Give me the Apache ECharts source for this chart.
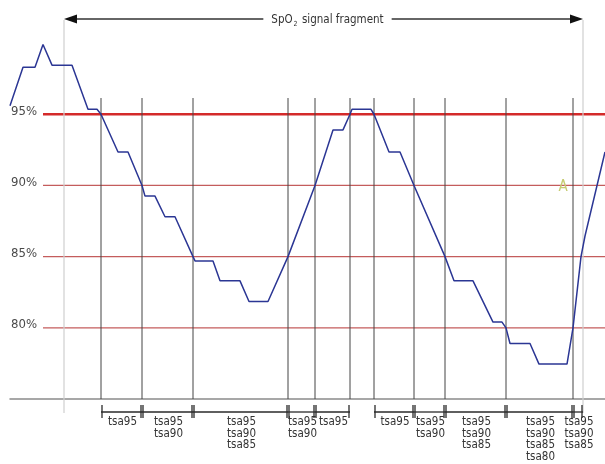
<!DOCTYPE html>
<html><head><meta charset="utf-8">
<script src="https://cdn.jsdelivr.net/npm/echarts@6.0.0/dist/echarts.min.js"></script>
<style>html,body{margin:0;padding:0;background:#fff}#c{width:605px;height:464px}</style>
</head><body><div id="c"></div>
<script>
// ---- data ----
const time = [0,13,25,33,42,62,78,87,91,108,118,132,135,145,155,165,183,185,203,210,230,239,258,278,305,323,333,340,342,361,364,379,390,404,435,444,463,483,492,496,500,520,529,557,563,571,575,595];
const spo2 = [95.6,98.3,98.3,99.9,98.45,98.45,95.35,95.35,95.0,92.35,92.35,90.0,89.25,89.25,87.8,87.8,85.0,84.7,84.7,83.3,83.3,81.85,81.85,85.0,90.0,93.9,93.9,95.0,95.35,95.35,95.0,92.35,92.35,90.0,85.0,83.3,83.3,80.4,80.4,80.0,78.9,78.9,77.45,77.45,80.0,85.0,86.45,92.35];
const thresholds = [95, 90, 85, 80];
const thresholdLabels = ['95%', '90%', '85%', '80%'];
const crossings = [91, 132, 183, 278, 305, 340, 364, 404, 435, 496, 563];
const fragmentStart = 54;
const fragmentEnd = 573;
const fragmentTitle = 'SpO';
const fragmentTitleSub = '2';
const fragmentTitleRest = ' signal fragment';
const segStart = [91, 132, 183, 278, 305, 364, 404, 435, 496, 563];
const segEnd   = [132, 183, 278, 305, 340, 404, 435, 496, 563, 573];
const segLabels = [
  'tsa95',
  'tsa95\ntsa90',
  'tsa95\ntsa90\ntsa85',
  'tsa95\ntsa90',
  'tsa95',
  'tsa95',
  'tsa95\ntsa90',
  'tsa95\ntsa90\ntsa85',
  'tsa95\ntsa90\ntsa85\ntsa80',
  'tsa95\ntsa90\ntsa85'
];
const markerText = 'A';
const markerPos = [553, 89.9];

// ---- layout / style constants ----
const Y_MIN = 75, Y_MAX = 102, X_MIN = 0, X_MAX = 595;
const TH_LINE_START = 33;
const CROSS_TOP = 96.14;
const FRAG_TOP = 101.62;
const ARROW_Y = 101.69;
const FONT = '"DejaVu Sans Condensed", "Liberation Sans Narrow", "DejaVu Sans", sans-serif';

const lineData = time.map((t, i) => [t, spo2[i]]);

const chart = echarts.init(document.getElementById('c'), null, {renderer: 'canvas'});

const option = {
  animation: false,
  backgroundColor: '#fff',
  grid: {left: 10, right: 0, top: 14.6, bottom: 65},
  xAxis: {
    type: 'value', min: X_MIN, max: X_MAX,
    axisLine: {show: true, lineStyle: {color: '#8a8a8a', width: 1.5}},
    axisTick: {show: false}, axisLabel: {show: false}, splitLine: {show: false}
  },
  yAxis: {
    type: 'value', min: Y_MIN, max: Y_MAX, show: false,
    splitLine: {show: false}
  },
  series: [
    { // threshold lines + labels
      type: 'custom', z: 1, silent: true,
      data: thresholds.map(t => [TH_LINE_START, t]),
      encode: {x: 0, y: 1},
      renderItem: function (params, api) {
        const i = params.dataIndex;
        const a = api.coord([api.value(0), api.value(1)]);
        const b = api.coord([X_MAX, api.value(1)]);
        const main = i === 0;
        return {type: 'group', children: [
          {type: 'line', shape: {x1: a[0], y1: a[1], x2: b[0], y2: b[1]},
           style: {stroke: main ? '#d42a2a' : '#c45c5c', lineWidth: main ? 2.6 : 1.2}},
          {type: 'text', x: a[0] - 6, y: a[1] - 3,
           style: {text: thresholdLabels[i], align: 'right', verticalAlign: 'middle',
                   fill: '#4a4a4a', font: '13px ' + FONT}}
        ]};
      }
    },
    { // fragment boundary light lines
      type: 'custom', z: 1, silent: true,
      data: [[fragmentStart], [fragmentEnd]],
      encode: {x: 0},
      renderItem: function (params, api) {
        const top = api.coord([api.value(0), FRAG_TOP]);
        const bot = api.coord([api.value(0), Y_MIN]);
        return {type: 'line', shape: {x1: top[0], y1: top[1], x2: bot[0], y2: bot[1] + 14},
                style: {stroke: '#cfcfcf', lineWidth: 1.2}};
      }
    },
    { // crossing vertical lines
      type: 'custom', z: 2, silent: true,
      data: crossings.map(x => [x]),
      encode: {x: 0},
      renderItem: function (params, api) {
        const top = api.coord([api.value(0), CROSS_TOP]);
        const bot = api.coord([api.value(0), Y_MIN]);
        return {type: 'line', shape: {x1: top[0], y1: top[1], x2: bot[0], y2: bot[1]},
                style: {stroke: '#444', lineWidth: 1}};
      }
    },
    { // brackets with tsa labels
      type: 'custom', z: 3, silent: true,
      data: segStart.map((s, i) => [s, segEnd[i]]),
      encode: {x: [0, 1]},
      renderItem: function (params, api) {
        const i = params.dataIndex;
        const s = api.coord([api.value(0), Y_MIN]);
        const e = api.coord([api.value(1), Y_MIN]);
        const y = s[1] + 13;
        const st = {stroke: '#2a2a2a', lineWidth: 1.3};
        return {type: 'group', children: [
          {type: 'line', shape: {x1: s[0], y1: y, x2: e[0], y2: y}, style: st},
          {type: 'line', shape: {x1: s[0] + 1, y1: y - 7, x2: s[0] + 1, y2: y + 6}, style: st},
          {type: 'line', shape: {x1: e[0] - 1, y1: y - 7, x2: e[0] - 1, y2: y + 6}, style: st},
          {type: 'text', x: (s[0] + e[0]) / 2 + 1, y: y + 4,
           style: {text: segLabels[i], align: 'center', verticalAlign: 'top',
                   lineHeight: 11.7, fill: '#333', font: '11.5px ' + FONT}}
        ]};
      }
    },
    { // fragment arrow + title
      type: 'custom', z: 3, silent: true,
      data: [[fragmentStart, fragmentEnd]],
      encode: {x: [0, 1]},
      renderItem: function (params, api) {
        const a = api.coord([api.value(0), ARROW_Y]);
        const b = api.coord([api.value(1), ARROW_Y]);
        const mid = (a[0] + b[0]) / 2 + 4;
        return {type: 'group', children: [
          {type: 'line', shape: {x1: a[0] + 8, y1: a[1], x2: b[0] - 8, y2: b[1]},
           style: {stroke: '#333', lineWidth: 1.3}},
          {type: 'polygon', shape: {points: [[a[0], a[1]], [a[0] + 13, a[1] - 4.5], [a[0] + 13, a[1] + 4.5]]},
           style: {fill: '#111'}},
          {type: 'polygon', shape: {points: [[b[0], b[1]], [b[0] - 13, b[1] - 4.5], [b[0] - 13, b[1] + 4.5]]},
           style: {fill: '#111'}},
          {type: 'text', x: mid, y: a[1] + 1,
           style: {
             text: '{m|' + fragmentTitle + '}{s|' + fragmentTitleSub + '}{m|' + fragmentTitleRest + '}',
             align: 'center', verticalAlign: 'middle',
             backgroundColor: '#fff', padding: [1, 8],
             rich: {
               m: {font: '11.5px ' + FONT, fill: '#333', lineHeight: 16, verticalAlign: 'middle'},
               s: {font: '7px ' + FONT, fill: '#333', verticalAlign: 'bottom', padding: [0, 1, 0, 1]}
             }
           }}
        ]};
      }
    },
    { // marker A
      type: 'custom', z: 3, silent: true,
      data: [markerPos],
      encode: {x: 0, y: 1},
      renderItem: function (params, api) {
        const p = api.coord([api.value(0), api.value(1)]);
        return {type: 'text', x: p[0], y: p[1],
                style: {text: markerText, align: 'center', verticalAlign: 'middle',
                        fill: '#c6cc72', font: '15px ' + FONT}};
      }
    },
    { // SpO2 signal
      type: 'line', z: 5, data: lineData, showSymbol: false, symbol: 'none',
      lineStyle: {color: '#2b3694', width: 1.5},
      clip: true, silent: true
    }
  ]
};
chart.setOption(option);
</script>
</body></html>
